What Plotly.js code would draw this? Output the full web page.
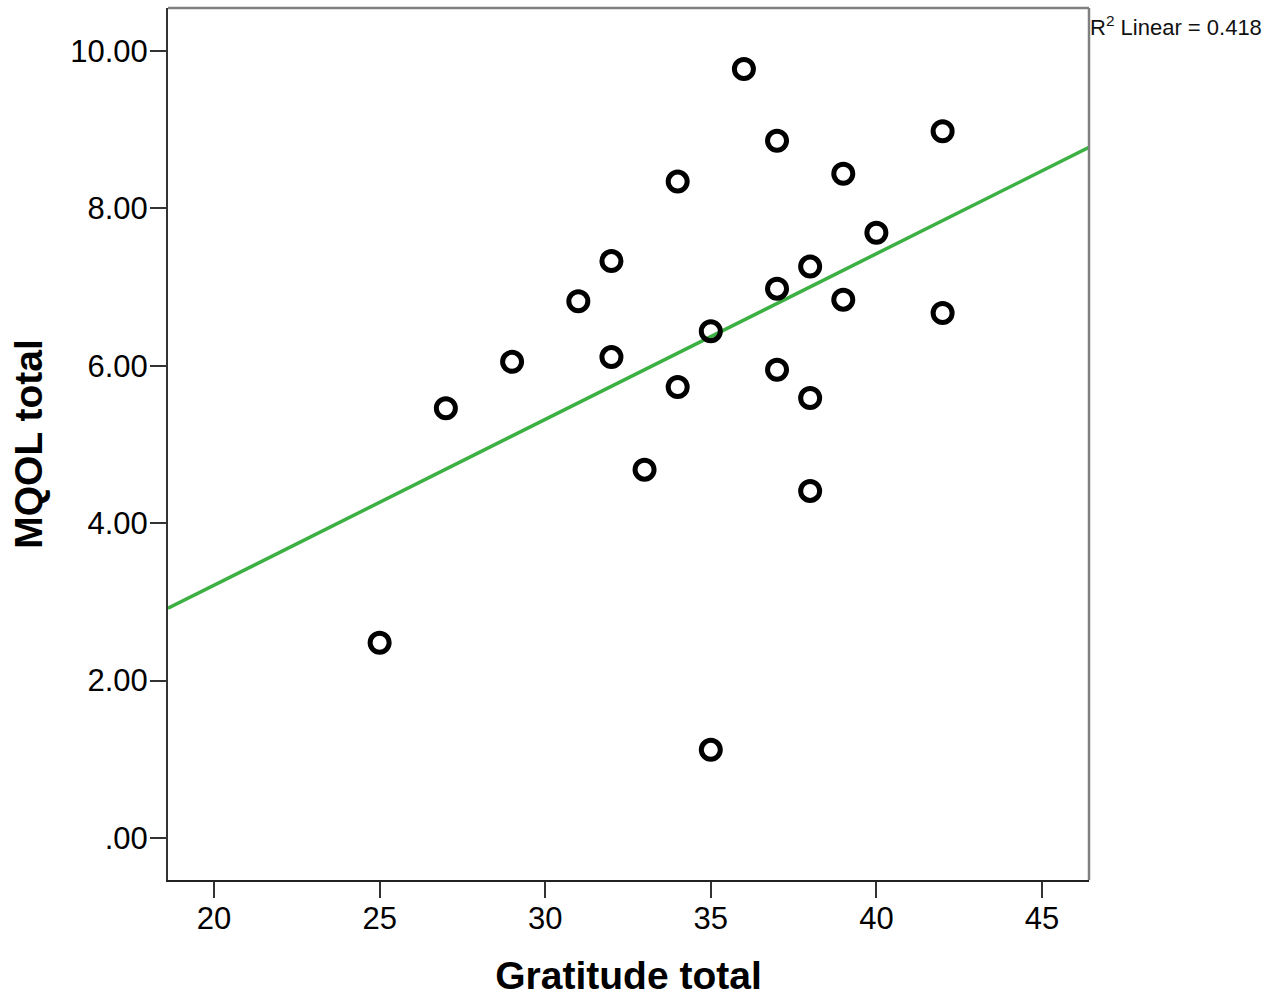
<!DOCTYPE html>
<html>
<head>
<meta charset="utf-8">
<script src="https://cdn.plot.ly/plotly-3.0.1.min.js"></script>
<style>html,body{margin:0;padding:0;background:#fff;}#chart{width:1272px;height:997px;}</style>
</head>
<body>
<div id="chart"></div>
<script>
// Data
const gratitude = [25, 27, 29, 31, 32, 32, 33, 34, 34, 35, 35, 36, 37, 37, 37, 38, 38, 38, 39, 39, 40, 42, 42];
const mqol      = [2.48, 5.46, 6.05, 6.82, 7.33, 6.11, 4.68, 8.34, 5.73, 6.44, 1.12, 9.77, 8.86, 6.98, 5.95, 7.26, 5.59, 4.41, 8.44, 6.84, 7.69, 8.98, 6.67];
const fitIntercept = -1.0;
const fitSlope = 0.2106;
const rSquared = "0.418";
const xTickVals = [20, 25, 30, 35, 40, 45];
const xTickText = ["20", "25", "30", "35", "40", "45"];
const yTickVals = [0, 2, 4, 6, 8, 10];
const yTickText = [".00", "2.00", "4.00", "6.00", "8.00", "10.00"];

const xRange = [18.61, 46.42];
const yRange = [-0.534, 10.546];
const fitX = [xRange[0], xRange[1]];
const fitY = fitX.map(x => fitIntercept + fitSlope * x);

const FONT = "Liberation Sans, Arial, sans-serif";

const traces = [
  {
    x: fitX, y: fitY, mode: "lines", type: "scatter",
    line: {color: "#3cb043", width: 3.5}, hoverinfo: "skip"
  },
  {
    x: gratitude, y: mqol, mode: "markers", type: "scatter",
    marker: {symbol: "circle-open", size: 19, color: "#000", line: {color: "#000", width: 5}}
  }
];

const layout = {
  width: 1272, height: 997,
  margin: {l: 168, r: 183, t: 8, b: 117},
  paper_bgcolor: "#fff", plot_bgcolor: "#fff",
  showlegend: false,
  font: {family: FONT, color: "#000"},
  xaxis: {
    range: xRange, tickvals: xTickVals, ticktext: xTickText,
    showgrid: false, zeroline: false,
    showline: true, linecolor: "#222", linewidth: 2, mirror: false,
    ticks: "outside", ticklen: 16, tickwidth: 2, tickcolor: "#333",
    ticklabelstandoff: -6,
    tickfont: {size: 31, family: FONT, color: "#000"},
    title: {text: "<b>Gratitude total</b>", font: {size: 39, family: FONT, color: "#000"}, standoff: 28}
  },
  yaxis: {
    range: yRange, tickvals: yTickVals, ticktext: yTickText,
    showgrid: false, zeroline: false,
    showline: true, linecolor: "#333", linewidth: 2, mirror: false,
    ticks: "outside", ticklen: 16, tickwidth: 2, tickcolor: "#333",
    ticklabelstandoff: -4,
    tickfont: {size: 31, family: FONT, color: "#000"},
    title: {text: "<b>MQOL total</b>", font: {size: 39, family: FONT, color: "#000"}, standoff: 16}
  },
  shapes: [
    {type: "line", xref: "paper", yref: "paper", x0: 0, x1: 1, y0: 1, y1: 1, line: {color: "#808080", width: 2.5}},
    {type: "line", xref: "paper", yref: "paper", x0: 1, x1: 1, y0: 0, y1: 1, line: {color: "#808080", width: 2.5}}
  ],
  annotations: [
    {xref: "paper", yref: "paper", x: 1, y: 1, xanchor: "left", yanchor: "top",
     xshift: -1, yshift: -2, showarrow: false,
     text: "R<sup>2</sup> Linear = " + rSquared,
     font: {size: 22, family: FONT, color: "#111"}}
  ]
};

Plotly.newPlot("chart", traces, layout, {displayModeBar: false, staticPlot: true});
</script>
</body>
</html>
